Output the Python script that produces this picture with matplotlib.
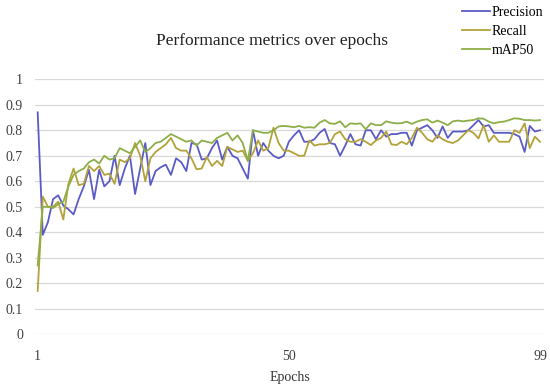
import matplotlib
matplotlib.use("Agg")
import matplotlib.pyplot as plt
import numpy as np

epochs = list(range(1, 100))

precision = [0.87, 0.39, 0.44, 0.53, 0.545, 0.505, 0.49, 0.47, 0.53, 0.58,
             0.645, 0.53, 0.645, 0.58, 0.60, 0.70, 0.585, 0.65, 0.70, 0.55,
             0.65, 0.75, 0.585, 0.64, 0.655, 0.665, 0.625, 0.69, 0.675, 0.64,
             0.75, 0.745, 0.685, 0.69, 0.73, 0.76, 0.685, 0.735, 0.70, 0.69,
             0.65, 0.61, 0.80, 0.70, 0.75, 0.72, 0.70, 0.69, 0.70, 0.755,
             0.78, 0.80, 0.755, 0.755, 0.765, 0.79, 0.805, 0.75, 0.745, 0.70,
             0.74, 0.785, 0.745, 0.74, 0.80, 0.80, 0.765, 0.80, 0.775, 0.785,
             0.785, 0.79, 0.79, 0.74, 0.80, 0.81, 0.82, 0.80, 0.77, 0.815,
             0.77, 0.795, 0.795, 0.795, 0.80, 0.82, 0.84, 0.815, 0.82, 0.79,
             0.79, 0.79, 0.79, 0.785, 0.775, 0.715, 0.817, 0.795, 0.80]

recall = [0.17, 0.54, 0.50, 0.50, 0.52, 0.45, 0.59, 0.65, 0.585, 0.59,
          0.66, 0.64, 0.66, 0.625, 0.63, 0.59, 0.685, 0.675, 0.69, 0.75,
          0.70, 0.60, 0.69, 0.715, 0.73, 0.745, 0.77, 0.73, 0.72, 0.72,
          0.69, 0.647, 0.65, 0.695, 0.66, 0.68, 0.66, 0.735, 0.725, 0.715,
          0.72, 0.68, 0.71, 0.76, 0.72, 0.73, 0.81, 0.75, 0.72, 0.72,
          0.71, 0.70, 0.70, 0.76, 0.74, 0.745, 0.745, 0.75, 0.785, 0.795,
          0.765, 0.755, 0.755, 0.765, 0.755, 0.742, 0.76, 0.77, 0.795, 0.745,
          0.742, 0.755, 0.745, 0.77, 0.81, 0.79, 0.765, 0.755, 0.78, 0.765,
          0.755, 0.75, 0.76, 0.78, 0.80, 0.79, 0.768, 0.82, 0.755, 0.78,
          0.755, 0.755, 0.755, 0.80, 0.79, 0.827, 0.73, 0.775, 0.755]

map50 = [0.27, 0.50, 0.50, 0.495, 0.51, 0.52, 0.58, 0.625, 0.64, 0.65,
         0.675, 0.685, 0.67, 0.70, 0.685, 0.69, 0.73, 0.72, 0.71, 0.735,
         0.76, 0.715, 0.73, 0.75, 0.755, 0.77, 0.785, 0.775, 0.765, 0.755,
         0.76, 0.74, 0.76, 0.755, 0.75, 0.77, 0.78, 0.79, 0.76, 0.78,
         0.75, 0.68, 0.80, 0.795, 0.79, 0.79, 0.80, 0.815, 0.817, 0.815,
         0.812, 0.817, 0.81, 0.812, 0.81, 0.83, 0.84, 0.827, 0.825, 0.835,
         0.812, 0.827, 0.825, 0.827, 0.804, 0.827, 0.82, 0.82, 0.835, 0.83,
         0.827, 0.828, 0.834, 0.825, 0.834, 0.84, 0.843, 0.83, 0.838, 0.83,
         0.82, 0.835, 0.838, 0.835, 0.838, 0.84, 0.847, 0.845, 0.834, 0.827,
         0.832, 0.834, 0.84, 0.847, 0.845, 0.84, 0.84, 0.838, 0.84]

series_names = ["Precision", "Recall", "mAP50"]
colors = ["#5B5BC6", "#B3A23A", "#8DAE48"]
xtick_vals = [1, 50, 99]
ytick_vals = [round(0.1 * i, 1) for i in range(11)]

serif = ["Liberation Serif", "DejaVu Serif"]
plt.rcParams["font.family"] = serif

fig = plt.figure(figsize=(5.5, 3.87), dpi=100)
ax = fig.add_axes([0.0645, 0.1362, 0.9245, 0.659])

lines = []
for vals, name, c in zip([precision, recall, map50], series_names, colors):
    ln, = ax.plot(epochs, vals, color=c, lw=1.3, label=name, zorder=3)
    lines.append(ln)

ax.set_xlim(0.57, 99.77)
ax.set_ylim(0, 1)
ax.set_yticks(ytick_vals)
ax.set_yticklabels([("%g" % v) for v in ytick_vals], fontsize=10, color="#404040")
ax.set_xticks(xtick_vals)
ax.set_xticklabels([str(v) for v in xtick_vals], fontsize=10, color="#404040")
ax.tick_params(axis="both", length=0)
ax.tick_params(axis="y", pad=9)
ax.tick_params(axis="x", pad=11)
ax.grid(axis="y", color="#D9D9D9", lw=0.9, zorder=0)
ax.set_axisbelow(True)
for s in ax.spines.values():
    s.set_visible(False)

ax.set_xlabel("Epochs", fontsize=10, color="#333333", labelpad=6)
fig.text(0.495, 0.895, "Performance metrics over epochs", ha="center", va="center",
         fontsize=12.5, color="#222222")

fig.legend(lines, series_names, loc="upper left", bbox_to_anchor=(0.8395, 0.985),
           frameon=False, handlelength=2.0, handletextpad=0.15, labelspacing=0.45,
           borderpad=0, borderaxespad=0, prop={"family": serif, "size": 10})

fig.savefig("out.png", dpi=100)
